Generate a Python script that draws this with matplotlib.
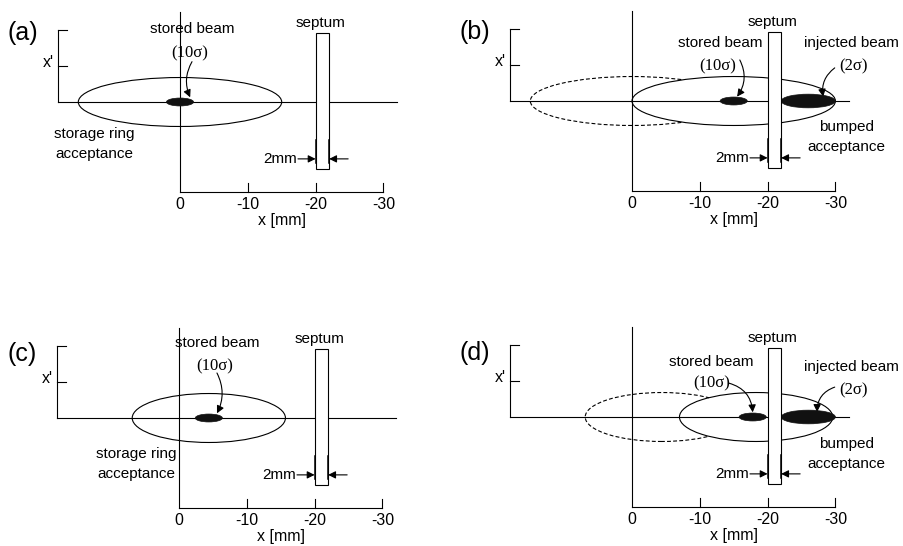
import numpy as np
import matplotlib
matplotlib.use('Agg')
import matplotlib.pyplot as plt
from matplotlib.patches import Ellipse, Rectangle, FancyArrowPatch

plt.rcParams['font.family'] = ['Liberation Sans', 'DejaVu Sans']

# ---- data (x in mm, x' in arbitrary units) ----
panel_labels = ['(a)', '(b)', '(c)', '(d)']
tick_values = [0, -10, -20, -30]
tick_labels = ['0', '-10', '-20', '-30']
bracket_ticks = [1.0, 2.0]

septum_x = [-20, -22]
septum_y = [-1.86, 1.92]

acc_center = [0, -15, -4.4, -18.3]      # solid acceptance ellipse
acc_halfwidth = [15, 15, 11.3, 11.3]
acc_halfheight = 0.68
old_center = [None, 0, None, -4.4]      # dashed (unbumped) acceptance

stored_center = [0, -15, -4.4, -17.8]
stored_halfwidth = 2.0
stored_halfheight = 0.11

injected_center = [None, -26, None, -26]
injected_halfwidth = 4.0
injected_halfheight = 0.19

# pixel origin of each panel inside its quadrant
origins = [(180, 102), (180, 101), (179, 145), (180, 144)]
SX, SY = 6.78, 36.0   # px per mm, px per x' unit
QW, QH = 452, 273

fig = plt.figure(figsize=(9.04, 5.46), dpi=100)

lw = 0.8
fs = 11
ls2 = 1.55


def curved_arrow(ax, p0, p1, rad):
    a = FancyArrowPatch(p0, p1, connectionstyle=f'arc3,rad={rad}',
                        arrowstyle='-|>', mutation_scale=11, lw=lw, color='black',
                        shrinkA=0, shrinkB=0)
    ax.add_patch(a)


for i in range(4):
    col, row = i % 2, i // 2
    ax = fig.add_axes([col * 0.5, 0.5 - row * 0.5, 0.5, 0.5])
    ox, oy = origins[i]
    ax.set_xlim(ox / SX, (ox - QW) / SX)
    ax.set_ylim((oy - QH) / SY, oy / SY)
    ax.axis('off')

    # axes lines
    ax.plot([18, -32], [0, 0], color='black', lw=lw)
    ax.plot([0, 0], [-2.5, 2.5], color='black', lw=lw)
    ax.plot([0, -30], [-2.5, -2.5], color='black', lw=lw)
    for t, lab in zip(tick_values, tick_labels):
        if t != 0:
            ax.plot([t, t], [-2.5, -2.25], color='black', lw=lw)
        ax.text(t, -2.86, lab, ha='center', va='center', fontsize=fs + 0.5)
    ax.text(-15, -3.28, 'x [mm]', ha='center', va='center', fontsize=fs + 0.5)

    # x' bracket
    ax.plot([18, 18], [0, bracket_ticks[-1]], color='black', lw=lw)
    for bt in bracket_ticks:
        ax.plot([18, 16.6], [bt, bt], color='black', lw=lw)
    ax.text(19.4, 1.1, "x'", ha='center', va='center', fontsize=fs + 0.5)
    ax.text(23.2, 1.93 if row == 0 else 1.77, panel_labels[i],
            ha='center', va='center', fontsize=18)

    # acceptance ellipses
    ax.add_patch(Ellipse((acc_center[i], 0), 2 * acc_halfwidth[i], 2 * acc_halfheight,
                         fill=False, ec='black', lw=lw, zorder=3))
    if old_center[i] is not None:
        e = Ellipse((old_center[i], 0), 2 * acc_halfwidth[i], 2 * acc_halfheight,
                    fill=False, ec='black', lw=lw, linestyle=(0, (3.5, 2)), zorder=3)
        ax.add_patch(e)
        cut = (old_center[i] + acc_center[i]) / 2
        clip = Rectangle((cut, -5), 60, 10, transform=ax.transData)
        e.set_clip_path(clip)

    # beams
    ax.add_patch(Ellipse((stored_center[i], 0), 2 * stored_halfwidth, 2 * stored_halfheight,
                         fc='#111111', ec='#111111', lw=0.5, zorder=4))
    if injected_center[i] is not None:
        ax.add_patch(Ellipse((injected_center[i], 0), 2 * injected_halfwidth,
                             2 * injected_halfheight, fc='#111111', ec='#111111',
                             lw=0.5, zorder=4))

    # septum
    ax.add_patch(Rectangle((septum_x[0], septum_y[0]), septum_x[1] - septum_x[0],
                           septum_y[1] - septum_y[0], fc='white', ec='black',
                           lw=lw, zorder=5))
    ax.text(np.mean(septum_x) + 0.3, 2.19, 'septum', ha='center', va='center', fontsize=fs)
    for sx in septum_x:
        ax.plot([sx, sx], [-1.05, -1.7], color='black', lw=1.1, zorder=6)
    curved_arrow(ax, (-17.4, -1.58), (septum_x[0], -1.58), 0)
    curved_arrow(ax, (-24.8, -1.58), (septum_x[1], -1.58), 0)
    ax.text(-17.3, -1.58, '2mm', ha='right', va='center', fontsize=fs)

    # labels
    if i == 0:
        ax.text(-1.77, 2.03, 'stored beam', ha='center', va='center', fontsize=fs)
        ax.text(-1.47, 1.36, '(10σ)', ha='center', va='center', fontsize=12,
                family='Liberation Serif')
        curved_arrow(ax, (-1.77, 1.12), (-1.5, 0.13), 0.25)
        ax.text(12.7, -1.17, 'storage ring\nacceptance', ha='center', va='center',
                fontsize=fs, linespacing=ls2)
    elif i == 2:
        ax.text(-5.6, 2.08, 'stored beam', ha='center', va='center', fontsize=fs)
        ax.text(-5.3, 1.42, '(10σ)', ha='center', va='center', fontsize=12,
                family='Liberation Serif')
        curved_arrow(ax, (-5.6, 1.25), (-5.6, 0.13), -0.25)
        ax.text(6.3, -1.28, 'storage ring\nacceptance', ha='center', va='center',
                fontsize=fs, linespacing=ls2)
    else:
        top = 1.61 if i == 1 else 1.53
        sig = 0.97 if i == 1 else 0.92
        ax.text(-13.0 if i == 1 else -11.7, top, 'stored beam', ha='center',
                va='center', fontsize=fs)
        ax.text(-12.7 if i == 1 else -11.8, sig, '(10σ)', ha='center', va='center',
                fontsize=12, family='Liberation Serif')
        if i == 1:
            curved_arrow(ax, (-15.9, 1.14), (-15.5, 0.12), -0.3)
        else:
            curved_arrow(ax, (-14.3, 0.94), (-17.8, 0.13), -0.35)
        itop = 1.61 if i == 1 else 1.39
        isig = 0.97 if i == 1 else 0.75
        ax.text(-32.3, itop, 'injected beam', ha='center', va='center', fontsize=fs)
        ax.text(-32.6, isig, '(2σ)', ha='center', va='center', fontsize=12,
                family='Liberation Serif')
        if i == 1:
            curved_arrow(ax, (-29.9, 0.92), (-28.2, 0.12), 0.3)
        else:
            curved_arrow(ax, (-29.9, 0.83), (-27.3, 0.14), 0.35)
        ax.text(-31.6, -1.01 if i == 1 else -1.03, 'bumped\nacceptance',
                ha='center', va='center', fontsize=fs, linespacing=ls2)

fig.savefig('out.png', dpi=100)
